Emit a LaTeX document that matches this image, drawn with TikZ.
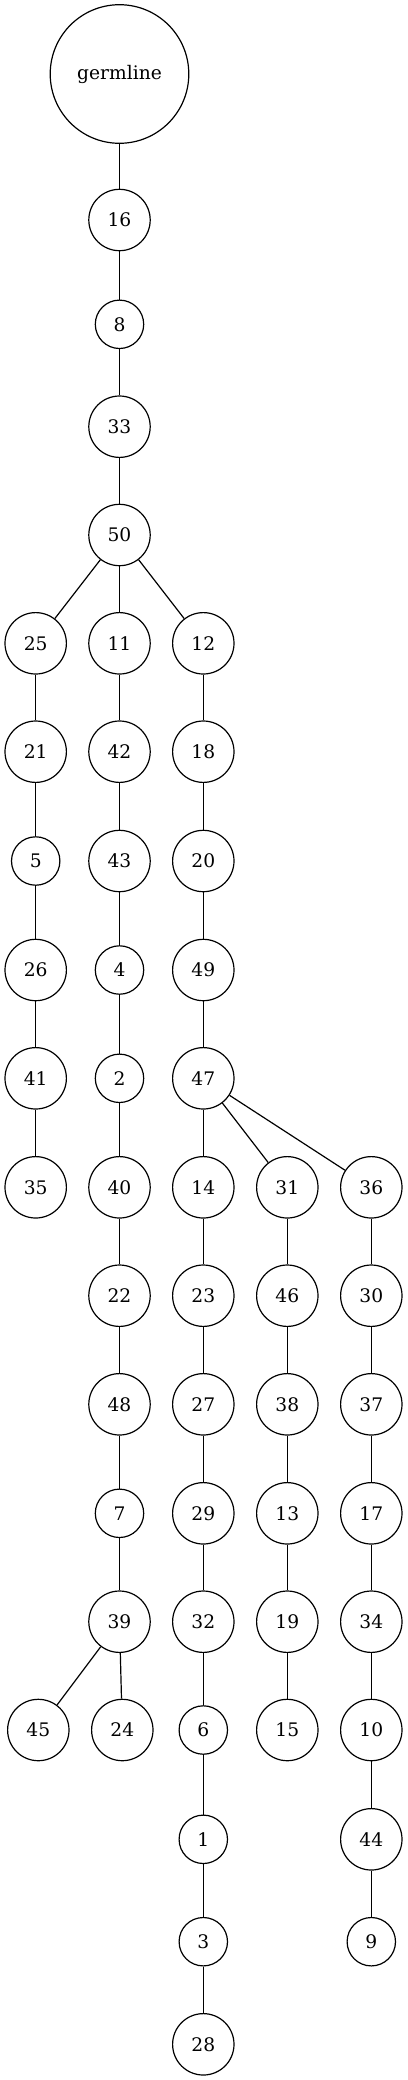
\documentclass[tikz,border=0pt]{standalone}
\usepackage{fontspec}
\setmainfont{DejaVu Serif}
\begin{document}
\begin{tikzpicture}[x=1pt,y=-1pt,line width=1.2pt,
    twodig/.style={circle,draw,inner sep=0pt,minimum size=61.4pt},
    onedig/.style={twodig,minimum size=48.4pt}]
    \fontsize{18.67}{22}\selectfont
    \useasboundingbox (0,0) rectangle (407,2080);
    % trunk
    \node[twodig,minimum size=138.6pt] (germline) at (119.5,74) {germline};
    \node[twodig] (n16) at (119.5,220) {16};
    \node[onedig] (n8) at (119.5,324.3) {8};
    \node[twodig] (n33) at (119.5,426.7) {33};
    \node[twodig] (n50) at (119.5,535) {50};
    % left branch
    \node[twodig] (n25) at (35.7,643.3) {25};
    \node[twodig] (n21) at (35.7,751.7) {21};
    \node[onedig] (n5) at (35.7,861) {5};
    \node[twodig] (n26) at (35.7,970) {26};
    \node[twodig] (n41) at (35.7,1078.3) {41};
    \node[twodig] (n35) at (35.7,1187.3) {35};
    % middle branch
    \node[twodig] (n11) at (119.5,643.3) {11};
    \node[twodig] (n42) at (119.5,751.7) {42};
    \node[twodig] (n43) at (119.5,861) {43};
    \node[onedig] (n4) at (119.5,970) {4};
    \node[onedig] (n2) at (119.5,1078.3) {2};
    \node[twodig] (n40) at (119.5,1187.3) {40};
    \node[twodig] (n22) at (119.5,1295.7) {22};
    \node[twodig] (n48) at (119.5,1404.3) {48};
    \node[onedig] (n7) at (119.5,1513.3) {7};
    \node[twodig] (n39) at (119.5,1621.7) {39};
    \node[twodig] (n45) at (38.3,1730) {45};
    \node[twodig] (n24) at (122.3,1730) {24};
    % right branch
    \node[twodig] (n12) at (203.3,643.3) {12};
    \node[twodig] (n18) at (203.3,751.7) {18};
    \node[twodig] (n20) at (203.3,861) {20};
    \node[twodig] (n49) at (203.3,970) {49};
    \node[twodig] (n47) at (203.3,1078.3) {47};
    \node[twodig] (n14) at (203.3,1187.3) {14};
    \node[twodig] (n23) at (203.3,1295.7) {23};
    \node[twodig] (n27) at (203.3,1404.3) {27};
    \node[twodig] (n29) at (203.3,1513.3) {29};
    \node[twodig] (n32) at (203.3,1621.7) {32};
    \node[onedig] (n6) at (203.3,1730) {6};
    \node[onedig] (n1) at (203.3,1839.3) {1};
    \node[onedig] (n3) at (203.3,1941.7) {3};
    \node[twodig] (n28) at (203.3,2044.3) {28};
    \node[twodig] (n31) at (287.3,1187.3) {31};
    \node[twodig] (n46) at (287.3,1295.7) {46};
    \node[twodig] (n38) at (287.3,1404.3) {38};
    \node[twodig] (n13) at (287.3,1513.3) {13};
    \node[twodig] (n19) at (287.3,1621.7) {19};
    \node[twodig] (n15) at (287.3,1730) {15};
    \node[twodig] (n36) at (371.3,1187.3) {36};
    \node[twodig] (n30) at (371.3,1295.7) {30};
    \node[twodig] (n37) at (371.3,1404.3) {37};
    \node[twodig] (n17) at (371.3,1513.3) {17};
    \node[twodig] (n34) at (371.3,1621.7) {34};
    \node[twodig] (n10) at (371.3,1730) {10};
    \node[twodig] (n44) at (371.3,1839.3) {44};
    \node[onedig] (n9) at (371.3,1941.7) {9};
    % edges
    \foreach \a/\b in {germline/n16,n16/n8,n8/n33,n33/n50,
        n50/n25,n50/n11,n50/n12,
        n25/n21,n21/n5,n5/n26,n26/n41,n41/n35,
        n11/n42,n42/n43,n43/n4,n4/n2,n2/n40,n40/n22,n22/n48,n48/n7,n7/n39,
        n39/n45,n39/n24,
        n12/n18,n18/n20,n20/n49,n49/n47,n47/n14,n47/n31,n47/n36,
        n14/n23,n23/n27,n27/n29,n29/n32,n32/n6,n6/n1,n1/n3,n3/n28,
        n31/n46,n46/n38,n38/n13,n13/n19,n19/n15,
        n36/n30,n30/n37,n37/n17,n17/n34,n34/n10,n10/n44,n44/n9}
      \draw (\a) -- (\b);
\end{tikzpicture}
\end{document}
